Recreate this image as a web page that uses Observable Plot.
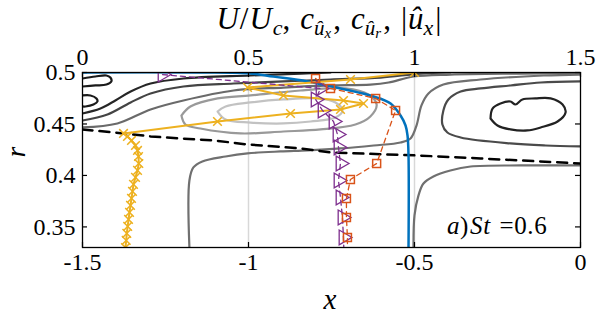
<!DOCTYPE html>
<html><head><meta charset="utf-8">
<script src="https://cdn.jsdelivr.net/npm/d3@7"></script>
<script src="https://cdn.jsdelivr.net/npm/@observablehq/plot@0.6"></script>
<style>body{margin:0;background:#fff} #chart{width:598px;height:319px}
#chart svg, #chart svg text { font-family: "Liberation Serif", "DejaVu Serif", serif !important; }</style>
</head><body><div id="chart"></div>
<script>
// ---- axes ----
const xTicks = [-1.5, -1, -0.5, 0];          // bottom axis (x)
const topTickLabels = ["0", "0.5", "1", "1.5"]; // top axis (U/Uc ...) = x + 1.5
const yTicks = [0.35, 0.4, 0.45, 0.5];
const xDomain = [-1.5, 0];
const yDomain = [0.33, 0.5];
const topShift = 1.5;

// ---- contour lines, [x, r] ----
const contourTopBlack = [[-1.5,0.4942],[-1.461,0.4961],[-1.428,0.4971],[-1.416,0.4951],[-1.413,0.4913],[-1.428,0.4883],[-1.461,0.4874],[-1.5,0.4864]];
const contourLoopBlack = [[-1.5,0.4777],[-1.476,0.4777],[-1.458,0.4748],[-1.455,0.4718],[-1.467,0.4689],[-1.491,0.4670],[-1.5,0.4670]];
const contourD1 = [[-1.5,0.4602],[-1.446,0.4650],[-1.401,0.4728],[-1.355,0.4815],[-1.295,0.4893],[-1.196,0.4942],[-0.994,0.4971],[-0.843,0.4990],[-0.753,0.5]];
const contourD2 = [[-1.5,0.4534],[-1.425,0.4592],[-1.355,0.4709],[-1.295,0.4796],[-1.196,0.4864],[-1.045,0.4893],[-0.895,0.4913],[-0.753,0.4932],[-0.602,0.4951],[-0.482,0.4990],[-0.392,0.5]];
const contourM1 = [[-1.5,0.4466],[-1.395,0.4505],[-1.295,0.4641],[-1.196,0.4728],[-1.045,0.4825],[-0.895,0.4854],[-0.753,0.4874],[-0.633,0.4883],[-0.578,0.4903],[-0.503,0.4961],[-0.392,0.4980],[-0.181,0.4990],[0,0.4995]];
const contourL1 = [[-1.202,0.4582],[-1.175,0.4670],[-1.093,0.4748],[-0.994,0.4777],[-0.843,0.4825],[-0.708,0.4845],[-0.639,0.4786],[-0.614,0.4689],[-0.633,0.4573],[-0.678,0.4495],[-0.783,0.4447],[-0.895,0.4427],[-1.024,0.4408],[-1.145,0.4456],[-1.190,0.4495],[-1.202,0.4582]];
const contourL0 = [[-1.093,0.4621],[-1.069,0.4670],[-0.994,0.4709],[-0.895,0.4738],[-0.792,0.4748],[-0.738,0.4709],[-0.717,0.4631],[-0.738,0.4563],[-0.813,0.4524],[-0.895,0.4505],[-0.994,0.4514],[-1.069,0.4544],[-1.093,0.4621]];
const contourG1 = [[-1.178,0.33],[-1.178,0.3951],[-1.166,0.4078],[-1.139,0.4136],[-1.069,0.4184],[-1.003,0.4214],[-0.904,0.4233],[-0.822,0.4243],[-0.723,0.4262],[-0.623,0.4291],[-0.542,0.4320],[-0.512,0.4359],[-0.494,0.4485],[-0.479,0.4680],[-0.458,0.4796],[-0.413,0.4883],[-0.301,0.4932],[-0.111,0.4971],[0,0.4980]];
const contourC = [[0,0.4913],[-0.120,0.4903],[-0.211,0.4874],[-0.301,0.4845],[-0.361,0.4815],[-0.398,0.4738],[-0.413,0.4631],[-0.416,0.4495],[-0.401,0.4417],[-0.361,0.4369],[-0.211,0.4311],[-0.105,0.4291],[0,0.4282]];
const contourLoopRight = [[-0.271,0.4553],[-0.265,0.4650],[-0.241,0.4699],[-0.211,0.4718],[-0.196,0.4689],[-0.175,0.4738],[-0.136,0.4748],[-0.090,0.4748],[-0.054,0.4689],[-0.045,0.4612],[-0.069,0.4524],[-0.120,0.4466],[-0.160,0.4437],[-0.211,0.4447],[-0.250,0.4485],[-0.271,0.4553]];
const contourG3 = [[-0.503,0.33],[-0.5,0.3611],[-0.488,0.3806],[-0.473,0.3922],[-0.443,0.3990],[-0.392,0.4048],[-0.331,0.4087],[-0.181,0.4097],[0,0.4097]];
const dashedLine = [[-1.5,0.4447],[-1.377,0.4408],[-1.295,0.4379],[-1.205,0.4359],[-1.105,0.4340],[-1.003,0.4301],[-0.843,0.4262],[-0.753,0.4223],[-0.491,0.4194],[-0.301,0.4165],[0,0.4116]];

// ---- profiles (top-axis units) ----
const uU = [0, 0.355, 0.506, 0.575, 0.678, 0.777, 0.877, 0.928, 0.958, 0.973, 0.979, 0.982, 0.982];
const uR = [0.5, 0.5, 0.499, 0.496, 0.4913, 0.4845, 0.4767, 0.4699, 0.4582, 0.4485, 0.4388, 0.4194, 0.33];

const cUrC = [0.241, 0.717, 0.702, 0.723, 0.756, 0.768, 0.771, 0.777, 0.771, 0.777, 0.783, 0.786, 0.788];
const cUrR = [0.498, 0.4845, 0.4738, 0.4631, 0.4524, 0.4398, 0.4272, 0.4116, 0.3951, 0.3786, 0.3592, 0.3398, 0.3204];

const cUxC = [0.702, 0.747, 0.883, 0.943, 0.886, 0.807, 0.795, 0.795, 0.798, 0.798];
const cUxR = [0.4942, 0.4845, 0.4748, 0.4631, 0.4116, 0.3961, 0.3777, 0.3592, 0.3398, 0.3204];

const absUxC = [0.1295,0.1316,0.1334,0.1361,0.1386,0.1416,0.1446,0.1476,0.1506,0.1536,0.1596,0.1657,0.1696,0.1687,0.1657,0.1596,0.1476,0.1355,0.1235,0.4066,0.6265,0.7771,0.8464,0.7861,0.6054,0.4970,0.8072,1.0];
const absUxR = [0.33,0.3369,0.3437,0.3505,0.3573,0.3641,0.3709,0.3777,0.3845,0.3913,0.3981,0.4049,0.4116,0.4184,0.4243,0.4291,0.4340,0.4379,0.4408,0.4524,0.4602,0.4641,0.4699,0.4728,0.4777,0.4854,0.4932,0.5];

const zip = (xs, ys) => xs.map((v, i) => ({x: v - topShift, r: ys[i]}));
const uData = zip(uU, uR), urData = zip(cUrC, cUrR), uxData = zip(cUxC, cUxR), absData = zip(absUxC, absUxR);

const contours = [
  {pts: contourG1, color: "#707070"},
  {pts: contourG3, color: "#707070"},
  {pts: contourC, color: "#4a4a4a"},
  {pts: contourLoopRight, color: "#222"},
  {pts: contourL0, color: "#c2c2c2"},
  {pts: contourL1, color: "#999"},
  {pts: contourM1, color: "#6a6a6a"},
  {pts: contourD2, color: "#444"},
  {pts: contourD1, color: "#262626"},
  {pts: contourLoopBlack, color: "#1a1a1a"},
  {pts: contourTopBlack, color: "#1a1a1a"}
];

const FONT = "Liberation Serif";
const plot = Plot.plot({
  width: 598, height: 319,
  marginLeft: 82, marginRight: 18, marginTop: 72, marginBottom: 72,
  style: {fontFamily: FONT, fontSize: "24px", background: "white", color: "black"},
  x: {domain: xDomain},
  y: {domain: yDomain},
  marks: [
    Plot.ruleX([-1, -0.5], {stroke: "#d8d8d8", strokeWidth: 1.5}),
    ...contours.map(c => Plot.line(c.pts, {x: d => d[0], y: d => d[1], stroke: c.color, strokeWidth: 2.2, curve: "catmull-rom", clip: true})),
    Plot.line(dashedLine, {x: d => d[0], y: d => d[1], stroke: "black", strokeWidth: 2.5, strokeDasharray: "10,7", clip: true}),
    Plot.line(uData, {x: "x", y: "r", stroke: "#0072BD", strokeWidth: 2.5, curve: "catmull-rom", clip: true}),
    Plot.line(absData, {x: "x", y: "r", stroke: "#EDB120", strokeWidth: 2, clip: true}),
    Plot.dot(absData, {x: "x", y: "r", symbol: "times", r: 4, stroke: "#EDB120", strokeWidth: 1.5, clip: true}),
    Plot.line(urData, {x: "x", y: "r", stroke: "#7E2F8E", strokeWidth: 1.3, strokeDasharray: "5,4", clip: true}),
    Plot.dot(urData, {x: "x", y: "r", symbol: "triangle", rotate: 90, r: 5.5, stroke: "#7E2F8E", fill: "none", strokeWidth: 1.3, clip: true}),
    Plot.line(uxData, {x: "x", y: "r", stroke: "#D95319", strokeWidth: 1.3, strokeDasharray: "5,4", clip: true}),
    Plot.dot(uxData, {x: "x", y: "r", symbol: "square", r: 4.5, stroke: "#D95319", fill: "none", strokeWidth: 1.5, clip: true}),
    Plot.frame({stroke: "black", strokeWidth: 1.3}),
    Plot.tickX(xTicks, {x: d => d, insetTop: 170, stroke: "black", strokeWidth: 1.2}),
    Plot.tickX(xTicks, {x: d => d, insetBottom: 170, stroke: "black", strokeWidth: 1.2}),
    Plot.tickY(yTicks, {y: d => d, insetRight: 493, stroke: "black", strokeWidth: 1.2}),
    Plot.tickY(yTicks, {y: d => d, insetLeft: 493, stroke: "black", strokeWidth: 1.2}),
    Plot.axisX(xTicks, {anchor: "bottom", tickSize: 0, tickPadding: 5, tickFormat: d => String(d), label: null, fontSize: 24}),
    Plot.axisX(xTicks, {anchor: "top", tickSize: 0, tickPadding: 8, tickFormat: (d, i) => topTickLabels[i], label: null, fontSize: 24}),
    Plot.axisY(yTicks, {anchor: "left", tickSize: 0, tickPadding: 7, tickFormat: d => String(d), label: null, fontSize: 24})
  ]
});
document.getElementById("chart").appendChild(plot);

const svg = d3.select(plot);
// top label
const t = svg.append("text").attr("x", 329).attr("y", 29).attr("text-anchor", "middle")
  .attr("font-size", 31).attr("fill", "black");
const add = (s, o = {}) => {
  const ts = t.append("tspan").text(s);
  if (o.i) ts.attr("font-style", "italic");
  if (o.fs) ts.attr("font-size", o.fs);
  if (o.dy) ts.attr("dy", o.dy);
  if (o.dx) ts.attr("dx", o.dx);
};
add("U", {i: 1}); add("/", {dx: 1}); add("U", {i: 1, dx: 1}); add("c", {i: 1, fs: 22, dy: 6, dx: 1});
add(",", {dy: -6}); add("c", {i: 1, dx: 10}); add("û", {i: 1, fs: 21, dy: 6}); add("x", {i: 1, fs: 15, dy: 3});
add(",", {dy: -9, dx: 2}); add("c", {i: 1, dx: 10}); add("û", {i: 1, fs: 21, dy: 6}); add("r", {i: 1, fs: 15, dy: 3});
add(",", {dy: -9, dx: 2}); add("|", {dx: 10}); add("û", {i: 1, dx: 1}); add("x", {i: 1, fs: 22, dy: 6}); add("|", {dy: -6, dx: 2});

// x label
svg.append("text").attr("x", 330).attr("y", 309).attr("text-anchor", "middle")
  .attr("font-size", 29).attr("font-style", "italic").text("x");
// r label
svg.append("text").attr("transform", "translate(25,152) rotate(-90)").attr("text-anchor", "middle")
  .attr("font-size", 27).attr("font-style", "italic").text("r");
// annotation
const a = svg.append("text").attr("x", 447).attr("y", 234).attr("text-anchor", "start")
  .attr("font-size", 25).attr("letter-spacing", 0.6);
a.append("tspan").attr("font-style", "italic").text("a");
a.append("tspan").text(")");
a.append("tspan").attr("font-style", "italic").attr("dx", 1).text("St");
a.append("tspan").attr("dx", 2).text(" =0.6");
</script>
</body></html>
